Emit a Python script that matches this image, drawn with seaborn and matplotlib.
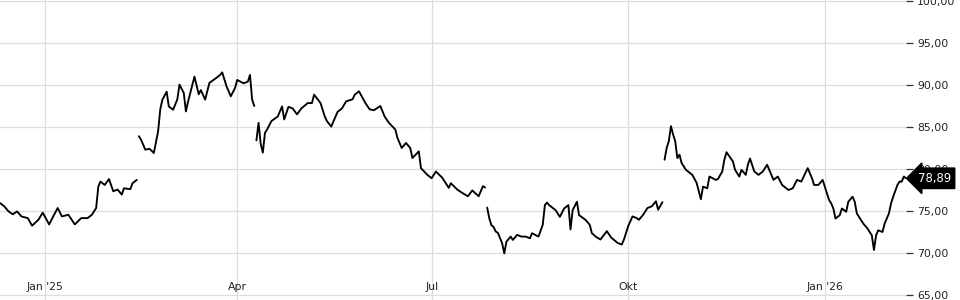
import matplotlib
matplotlib.use("Agg")
import matplotlib.pyplot as plt
import matplotlib.transforms as mtransforms
from matplotlib.ticker import FuncFormatter
import seaborn as sns
import pandas as pd

# ---------------- data ----------------
seg1_dates = ["2024-12-11", "2024-12-13", "2024-12-15", "2024-12-17", "2024-12-19", "2024-12-21",
              "2024-12-24", "2024-12-26", "2024-12-29", "2024-12-31", "2025-01-03", "2025-01-05",
              "2025-01-07", "2025-01-09", "2025-01-12", "2025-01-15", "2025-01-18", "2025-01-21",
              "2025-01-23", "2025-01-25", "2025-01-26", "2025-01-27", "2025-01-29", "2025-01-31",
              "2025-02-02", "2025-02-04", "2025-02-06", "2025-02-07", "2025-02-10", "2025-02-11",
              "2025-02-13"]
seg1_values = [75.95, 75.55, 74.95, 74.6, 74.95, 74.35, 74.15, 73.25, 73.96, 74.8,
               73.4, 74.4, 75.35, 74.35, 74.55, 73.4, 74.15, 74.15, 74.55, 75.35,
               77.9, 78.5, 78.1, 78.8, 77.35, 77.55, 76.95, 77.7, 77.6, 78.3, 78.7]

seg2_dates = ["2025-02-14", "2025-02-15", "2025-02-17", "2025-02-19", "2025-02-21", "2025-02-23",
              "2025-02-24", "2025-02-25", "2025-02-27", "2025-02-28", "2025-03-02", "2025-03-04",
              "2025-03-05", "2025-03-07", "2025-03-08", "2025-03-09", "2025-03-12", "2025-03-14",
              "2025-03-15", "2025-03-17", "2025-03-19", "2025-03-22", "2025-03-24", "2025-03-25",
              "2025-03-27", "2025-03-29", "2025-03-31", "2025-04-01", "2025-04-04", "2025-04-06",
              "2025-04-07", "2025-04-08", "2025-04-09"]
seg2_values = [83.9, 83.5, 82.3, 82.4, 81.9, 84.5, 87.1, 88.25, 89.2, 87.45,
               87.05, 88.3, 90.05, 89.05, 86.85, 88.0, 91.0, 88.9, 89.4, 88.25,
               90.25, 90.8, 91.2, 91.5, 89.85, 88.65, 89.65, 90.6, 90.2, 90.4,
               91.2, 88.25, 87.5]

seg3_dates = ["2025-04-10", "2025-04-11", "2025-04-12", "2025-04-13", "2025-04-14", "2025-04-15",
              "2025-04-17", "2025-04-20", "2025-04-22", "2025-04-23", "2025-04-25", "2025-04-27",
              "2025-04-29", "2025-05-01", "2025-05-04", "2025-05-06", "2025-05-07", "2025-05-10",
              "2025-05-12", "2025-05-13", "2025-05-15", "2025-05-18", "2025-05-20", "2025-05-22",
              "2025-05-25", "2025-05-26", "2025-05-28", "2025-05-31", "2025-06-02", "2025-06-04",
              "2025-06-07", "2025-06-09", "2025-06-11", "2025-06-14", "2025-06-15", "2025-06-17",
              "2025-06-19", "2025-06-21", "2025-06-22", "2025-06-25", "2025-06-26", "2025-06-29",
              "2025-07-01", "2025-07-03", "2025-07-06", "2025-07-09", "2025-07-10", "2025-07-13",
              "2025-07-15", "2025-07-18", "2025-07-20", "2025-07-23", "2025-07-25", "2025-07-26"]
seg3_values = [83.4, 85.5, 83.0, 81.95, 84.3, 84.7, 85.7, 86.25, 87.45, 85.9,
               87.4, 87.2, 86.5, 87.2, 87.85, 87.85, 88.85, 87.85, 86.25, 85.7,
               85.05, 86.8, 87.2, 88.05, 88.3, 88.85, 89.25, 87.85, 87.1, 87.0,
               87.5, 86.25, 85.5, 84.7, 83.7, 82.5, 83.1, 82.5, 81.3, 82.1,
               80.1, 79.3, 78.9, 79.7, 78.95, 77.75, 78.3, 77.55, 77.2, 76.75,
               77.45, 76.75, 77.95, 77.8]

seg4_dates = ["2025-07-27", "2025-07-28", "2025-07-29", "2025-07-30", "2025-07-31", "2025-08-01",
              "2025-08-03", "2025-08-04", "2025-08-05", "2025-08-07", "2025-08-08", "2025-08-10",
              "2025-08-12", "2025-08-14", "2025-08-16", "2025-08-17", "2025-08-20", "2025-08-22",
              "2025-08-23", "2025-08-24", "2025-08-25", "2025-08-28", "2025-08-30", "2025-09-01",
              "2025-09-03", "2025-09-04", "2025-09-05", "2025-09-07", "2025-09-08", "2025-09-11",
              "2025-09-13", "2025-09-14", "2025-09-16", "2025-09-18", "2025-09-21", "2025-09-23",
              "2025-09-26", "2025-09-28", "2025-09-29", "2025-10-01", "2025-10-03", "2025-10-05",
              "2025-10-06", "2025-10-08", "2025-10-10", "2025-10-12", "2025-10-14", "2025-10-15",
              "2025-10-17"]
seg4_values = [75.4, 74.1, 73.3, 73.1, 72.55, 72.4, 71.15, 69.95, 71.35, 71.95,
               71.55, 72.15, 71.95, 71.95, 71.75, 72.35, 71.95, 73.35, 75.7, 76.0,
               75.7, 75.1, 74.3, 75.3, 75.7, 72.8, 75.1, 76.1, 74.5, 73.95,
               73.35, 72.35, 71.9, 71.6, 72.6, 71.85, 71.2, 71.0, 71.6, 73.2,
               74.35, 74.15, 73.95, 74.55, 75.35, 75.55, 76.15, 75.15, 76.05]

seg5_dates = ["2025-10-18", "2025-10-19", "2025-10-20", "2025-10-21", "2025-10-22", "2025-10-23",
              "2025-10-24", "2025-10-25", "2025-10-26", "2025-10-28", "2025-10-31", "2025-11-02",
              "2025-11-04", "2025-11-05", "2025-11-07", "2025-11-08", "2025-11-11", "2025-11-12",
              "2025-11-14", "2025-11-15", "2025-11-16", "2025-11-19", "2025-11-20", "2025-11-22",
              "2025-11-23", "2025-11-25", "2025-11-26", "2025-11-27", "2025-11-29", "2025-12-01",
              "2025-12-03", "2025-12-05", "2025-12-07", "2025-12-08", "2025-12-10", "2025-12-12",
              "2025-12-15", "2025-12-17", "2025-12-19", "2025-12-21", "2025-12-24", "2025-12-26",
              "2025-12-27", "2025-12-29", "2025-12-31", "2026-01-02", "2026-01-03", "2026-01-04",
              "2026-01-05", "2026-01-06", "2026-01-08", "2026-01-09", "2026-01-11", "2026-01-12",
              "2026-01-14", "2026-01-15", "2026-01-16", "2026-01-18", "2026-01-19", "2026-01-21",
              "2026-01-22", "2026-01-23", "2026-01-24", "2026-01-25", "2026-01-26", "2026-01-28",
              "2026-01-29", "2026-01-31", "2026-02-01", "2026-02-02", "2026-02-04", "2026-02-05",
              "2026-02-06", "2026-02-07", "2026-02-08"]
seg5_values = [81.1, 82.5, 83.3, 85.1, 84.1, 83.3, 81.3, 81.7, 80.7, 79.9,
               79.3, 78.35, 76.4, 77.9, 77.7, 79.1, 78.7, 78.8, 79.7, 81.1,
               82.0, 80.9, 79.9, 79.1, 79.9, 79.3, 80.5, 81.25, 79.7, 79.3,
               79.7, 80.5, 79.3, 78.7, 79.1, 78.1, 77.5, 77.7, 78.7, 78.5,
               80.1, 78.9, 78.1, 78.1, 78.7, 77.1, 76.3, 75.9, 75.3, 74.1,
               74.5, 75.3, 74.9, 76.1, 76.7, 76.1, 74.7, 73.9, 73.5, 72.9,
               72.5, 72.1, 70.35, 72.1, 72.7, 72.5, 73.5, 74.7, 75.9, 76.7,
               78.1, 78.5, 78.5, 79.1, 78.89]

tick_dates = ["2025-01-01", "2025-04-01", "2025-07-01", "2025-10-01", "2026-01-01"]
tick_labels = ["Jan '25", "Apr", "Jul", "Okt", "Jan '26"]
y_ticks = [65, 70, 75, 80, 85, 90, 95, 100]

# ---------------- build table ----------------
segments = [(seg1_dates, seg1_values), (seg2_dates, seg2_values), (seg3_dates, seg3_values),
            (seg4_dates, seg4_values), (seg5_dates, seg5_values)]
frames = []
for i, (d, v) in enumerate(segments):
    assert len(d) == len(v), (i, len(d), len(v))
    frames.append(pd.DataFrame({"date": pd.to_datetime(d), "price": v, "seg": i}))
df = pd.concat(frames, ignore_index=True)

# ---------------- plot ----------------
sns.set_theme(style="white")
plt.rcParams["font.family"] = ["DejaVu Sans"]

fig = plt.figure(figsize=(9.6, 3.0), dpi=100)
ax = fig.add_axes([0.0, 0.0, 906.0 / 960.0, 1.0])

sns.lineplot(data=df, x="date", y="price", units="seg", estimator=None,
             color="black", linewidth=1.35, ax=ax, legend=False)

ax.set_xlim(pd.Timestamp("2024-12-11"), pd.Timestamp("2026-02-08"))
ax.set_ylim(64.4, 100.12)

ax.set_xticks(pd.to_datetime(tick_dates))
ax.set_xticklabels(tick_labels)
ax.set_yticks(y_ticks)
ax.yaxis.set_major_formatter(FuncFormatter(lambda v, p: f"{v:.2f}".replace(".", ",")))

ax.yaxis.tick_right()
ax.tick_params(axis="y", which="both", direction="out", length=5, width=0.9,
               color="#333333", labelcolor="#222222", labelsize=7.8, pad=3,
               left=False, right=True)
ax.tick_params(axis="x", which="both", direction="in", length=4, width=0.9,
               color="#222222", labelcolor="#222222", labelsize=7.8, pad=-13)

ax.grid(True, color="#dddddd", linewidth=0.9)
ax.set_axisbelow(True)
for s in ax.spines.values():
    s.set_visible(False)
ax.set_xlabel("")
ax.set_ylabel("")

# last value marker box
last_val = seg5_values[-1]
trans = mtransforms.blended_transform_factory(ax.transAxes, ax.transData)
ax.text(1.013, last_val, f"{last_val:.2f}".replace(".", ","), transform=trans,
        ha="left", va="center", color="white", fontsize=8.4, clip_on=False,
        bbox=dict(boxstyle="larrow,pad=0.32", fc="black", ec="black"))

fig.savefig("out.png", dpi=100)
